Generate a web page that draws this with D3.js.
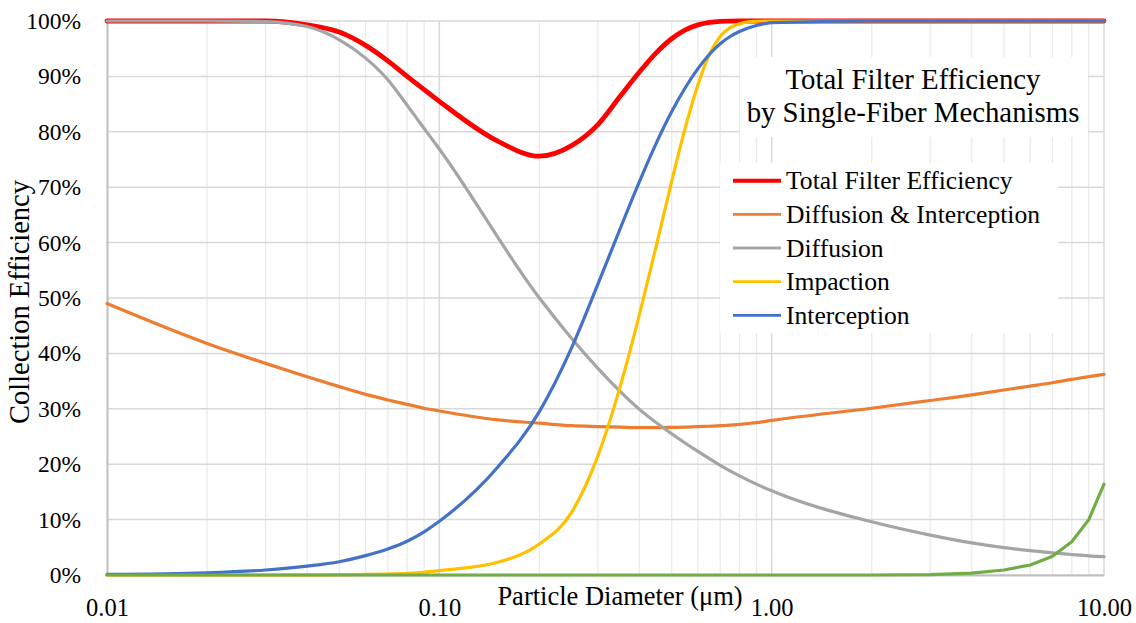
<!DOCTYPE html>
<html><head><meta charset="utf-8">
<script src="https://cdn.jsdelivr.net/npm/d3@7"></script>
<style>
body{margin:0;background:#fff;}
text{font-family:"Liberation Serif","Times New Roman",serif;fill:#000;}
</style>
</head><body>
<svg id="chart" width="1136" height="623"></svg>
<script>
// ---- data ----
const diamFine = [0.01,0.02,0.03,0.04,0.05,0.06,0.07,0.08,0.09,
  0.1,0.15,0.2,0.25,0.3,0.35,0.4,0.45,0.5,0.55,0.6,0.65,0.7,0.75,0.8,0.85,0.9,0.95,
  1,2,3,4,5,6,7,8,9,10];
const diamCoarse = [0.01,0.02,0.03,0.04,0.05,0.06,0.07,0.08,0.09,
  0.1,0.2,0.3,0.4,0.5,0.6,0.7,0.8,0.9,
  1,2,3,4,5,6,7,8,9,10];

const totalEff = [100,100,100,99.3,98.0,95.6,92.8,90.0,87.6,
  85.5,78.3,75.6,77.5,81.3,86.4,90.8,94.3,96.8,98.4,99.3,99.75,99.93,99.98,100,100,100,100,
  100,100,100,100,100,100,100,100,100,100];
const diffInterc = [49.0,41.8,38.2,35.8,34.0,32.6,31.6,30.8,30.1,
  29.6,28.0,27.4,26.95,26.8,26.7,26.6,26.6,26.65,26.7,26.8,26.85,26.95,27.05,27.2,27.35,27.5,27.7,
  27.9,30.1,31.5,32.5,33.4,34.1,34.7,35.3,35.8,36.2];
const impaction = [0,0,0,0.02,0.05,0.1,0.18,0.3,0.5,
  0.8,2.3,5.6,11.3,21.5,34.0,47.0,59.5,71.0,80.8,88.5,94.0,97.2,98.8,99.5,99.85,99.95,100,
  100,100,100,100,100,100,100,100,100,100];
const interception = [0.1,0.4,0.9,1.6,2.4,3.5,4.7,6.1,7.8,
  9.7,19.5,29.5,41.0,52.5,62.5,71.0,78.0,83.6,88.0,91.4,94.0,95.9,97.2,98.1,98.75,99.2,99.5,
  99.7,100,100,100,100,100,100,100,100,100];
const diffusion = [100,100,99.9,99.0,96.6,93.3,89.4,84.8,80.6,
  76.9,50.0,37.3,29.9,25.5,22.3,19.8,17.9,16.4,
  15.2,9.6,7.2,5.8,4.95,4.4,4.0,3.7,3.45,3.3];
const settling = [0,0,0,0,0,0,0,0,0,
  0,0,0,0,0,0,0,0,0,
  0,0,0.05,0.35,0.9,1.8,3.4,6.0,10.0,16.4];

const yTicks = [0,10,20,30,40,50,60,70,80,90,100];
const xTicks = [0.01,0.1,1,10];
const xTickLabels = ["0.01","0.10","1.00","10.00"];
const legendTitle = ["Total Filter Efficiency","by Single-Fiber Mechanisms"];
const xTitle = "Particle Diameter (\u03bcm)";
const yTitle = "Collection Efficiency";

// ---- series definitions ----
const series = [
  {name:"Total Filter Efficiency", x:diamFine, y:totalEff, color:"#FF0000", w:4.8, smooth:true, legend:true},
  {name:"Diffusion & Interception", x:diamFine, y:diffInterc, color:"#ED7D31", w:3.2, smooth:true, legend:true},
  {name:"Diffusion", x:diamCoarse, y:diffusion, color:"#A5A5A5", w:3.2, smooth:true, legend:true},
  {name:"Impaction", x:diamFine, y:impaction, color:"#FFC000", w:3.2, smooth:true, legend:true},
  {name:"Interception", x:diamFine, y:interception, color:"#4472C4", w:3.2, smooth:true, legend:true},
  {name:"Settling", x:diamCoarse, y:settling, color:"#70AD47", w:3.2, smooth:false, legend:false}
];

const svg = d3.select("#chart");
const L = 107, R = 1104, T = 21, B = 575;
const x = d3.scaleLog().domain([0.01,10]).range([L,R]);
const y = d3.scaleLinear().domain([0,100]).range([B,T]);

// minor vertical gridlines
const minor = [];
[0.01,0.1,1].forEach(d => { for (let k=2;k<=9;k++) minor.push(d*k); });
svg.append("g").selectAll("line").data(minor).join("line")
  .attr("x1",d=>x(d)).attr("x2",d=>x(d)).attr("y1",T).attr("y2",B)
  .attr("stroke","#ebebeb").attr("stroke-width",1.3);
// major vertical
svg.append("g").selectAll("line").data(xTicks.slice(1)).join("line")
  .attr("x1",d=>x(d)).attr("x2",d=>x(d)).attr("y1",T).attr("y2",B)
  .attr("stroke","#d9d9d9").attr("stroke-width",1.5);
// horizontal major
svg.append("g").selectAll("line").data(yTicks).join("line")
  .attr("x1",L).attr("x2",R).attr("y1",d=>y(d)).attr("y2",d=>y(d))
  .attr("stroke","#d9d9d9").attr("stroke-width",1.5);

// axes
const yAxis = d3.axisLeft(y).tickValues(yTicks).tickFormat(d=>d+"%").tickSize(0).tickPadding(26);
const gy = svg.append("g").attr("transform",`translate(${L},0)`).call(yAxis);
gy.select(".domain").attr("stroke","#bfbfbf").attr("stroke-width",2);
gy.selectAll("text").attr("font-size",23.5).attr("font-family","Liberation Serif").attr("fill","#000");

const xAxis = d3.axisBottom(x).tickValues(xTicks).tickFormat((d,i)=>xTickLabels[i]).tickSize(0).tickPadding(24);
const gx = svg.append("g").attr("transform",`translate(0,${B})`).call(xAxis);
gx.select(".domain").attr("stroke","#bfbfbf").attr("stroke-width",2);
gx.selectAll("text").attr("font-size",24.5).attr("font-family","Liberation Serif").attr("fill","#000");

// axis titles
svg.append("text").attr("x",620).attr("y",605).attr("text-anchor","middle")
  .attr("font-size",26.5).text(xTitle);
svg.append("text").attr("transform","translate(29,302) rotate(-90)").attr("text-anchor","middle")
  .attr("font-size",28.5).text(yTitle);

// lines
const lineSmooth = d3.line().curve(d3.curveMonotoneX);
const lineStraight = d3.line();
const gl = svg.append("g");
series.forEach(s => {
  const pts = s.x.map((d,i)=>[x(d), y(s.y[i])]);
  gl.append("path").attr("d",(s.smooth?lineSmooth:lineStraight)(pts))
    .attr("fill","none").attr("stroke",s.color).attr("stroke-width",s.w)
    .attr("stroke-linejoin","round").attr("stroke-linecap","round");
});

// legend
svg.append("rect").attr("x",740).attr("y",57).attr("width",348).attr("height",80).attr("fill","#fff");
svg.append("rect").attr("x",720).attr("y",163).attr("width",338).attr("height",170).attr("fill","#fff");
legendTitle.forEach((t,i)=>{
  svg.append("text").attr("x",913).attr("y",89+i*32.5).attr("text-anchor","middle")
    .attr("font-size",28.8).text(t);
});
const leg = series.filter(s=>s.legend);
const lg = svg.append("g");
leg.forEach((s,i)=>{
  const yy = 180.7 + i*33.65;
  lg.append("line").attr("x1",733).attr("x2",781).attr("y1",yy).attr("y2",yy)
    .attr("stroke",s.color).attr("stroke-width",s.w>4?4:2.8);
  lg.append("text").attr("x",786).attr("y",yy+8.5).attr("font-size",25.6).text(s.name);
});
</script>
</body></html>
